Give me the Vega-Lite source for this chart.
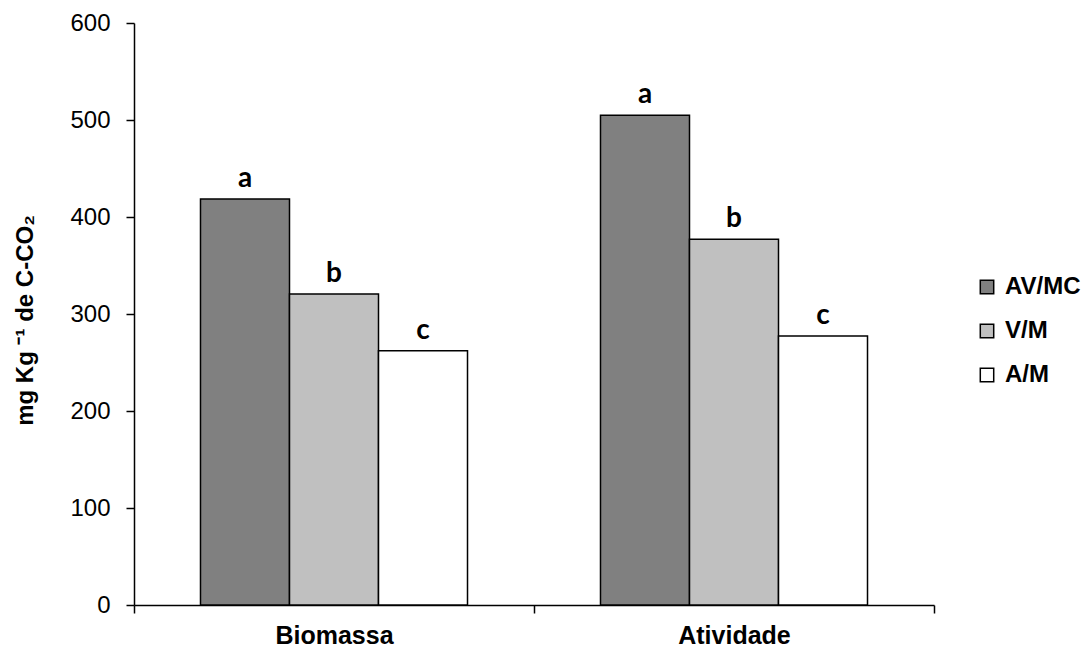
{
  "$schema": "https://vega.github.io/schema/vega-lite/v6.json",
  "autosize": "none",
  "width": 800,
  "height": 582,
  "padding": {"left": 134, "top": 23, "right": 155, "bottom": 45},
  "background": "white",
  "config": {
    "view": {"stroke": null},
    "font": "Liberation Sans"
  },
  "data": {
    "values": [
      {"grupo": "Biomassa", "tratamento": "AV/MC", "valor": 418.6, "letra": "a"},
      {"grupo": "Biomassa", "tratamento": "V/M", "valor": 320.6, "letra": "b"},
      {"grupo": "Biomassa", "tratamento": "A/M", "valor": 262, "letra": "c"},
      {"grupo": "Atividade", "tratamento": "AV/MC", "valor": 505, "letra": "a"},
      {"grupo": "Atividade", "tratamento": "V/M", "valor": 377, "letra": "b"},
      {"grupo": "Atividade", "tratamento": "A/M", "valor": 277.3, "letra": "c"}
    ]
  },
  "encoding": {
    "x": {
      "field": "grupo",
      "type": "nominal",
      "sort": ["Biomassa", "Atividade"],
      "scale": {"paddingInner": 0, "paddingOuter": 0},
      "axis": {
        "title": null,
        "labelAngle": 0,
        "labelFont": "Liberation Sans",
        "labelFontSize": 25,
        "labelFontWeight": "bold",
        "labelColor": "black",
        "labelPadding": 10,
        "domainColor": "black",
        "domainWidth": 1.5,
        "tickColor": "black",
        "tickWidth": 1.5,
        "tickSize": 8,
        "tickBand": "extent"
      }
    },
    "xOffset": {
      "field": "tratamento",
      "type": "nominal",
      "sort": ["AV/MC", "V/M", "A/M"],
      "scale": {"paddingInner": 0, "paddingOuter": 0.747}
    },
    "y": {
      "field": "valor",
      "type": "quantitative",
      "scale": {"domain": [0, 600], "nice": false},
      "axis": {
        "title": "mg Kg ⁻¹ de C-CO₂",
        "titleFont": "Liberation Sans",
        "titleFontSize": 24,
        "titleFontWeight": "bold",
        "titleColor": "black",
        "titleAngle": -90,
        "titleX": -102,
        "titleY": 297,
        "titleAlign": "center",
        "titleBaseline": "alphabetic",
        "values": [0, 100, 200, 300, 400, 500, 600],
        "grid": false,
        "labelFont": "Liberation Sans",
        "labelFontSize": 24,
        "labelColor": "black",
        "labelPadding": 16,
        "domainColor": "black",
        "domainWidth": 1.5,
        "tickColor": "black",
        "tickWidth": 1.5,
        "tickSize": 8
      }
    }
  },
  "layer": [
    {
      "mark": {"type": "bar", "stroke": "black", "strokeWidth": 1.5},
      "encoding": {
        "fill": {
          "field": "tratamento",
          "type": "nominal",
          "sort": ["AV/MC", "V/M", "A/M"],
          "scale": {
            "domain": ["AV/MC", "V/M", "A/M"],
            "range": ["#808080", "#c0c0c0", "#ffffff"]
          },
          "legend": {
            "title": null,
            "orient": "none",
            "legendX": 841,
            "legendY": 252,
            "padding": 0,
            "symbolType": "square",
            "symbolSize": 180,
            "symbolStrokeColor": "black",
            "symbolStrokeWidth": 1.5,
            "labelFont": "Liberation Sans",
            "labelFontSize": 24,
            "labelFontWeight": "bold",
            "labelColor": "black",
            "labelOffset": 6,
            "rowPadding": 20
          }
        }
      }
    },
    {
      "mark": {
        "type": "text",
        "font": "Lato",
        "fontWeight": "bold",
        "fontSize": 28,
        "baseline": "alphabetic",
        "dy": -12,
        "color": "black"
      },
      "encoding": {
        "text": {"field": "letra"}
      }
    }
  ]
}
